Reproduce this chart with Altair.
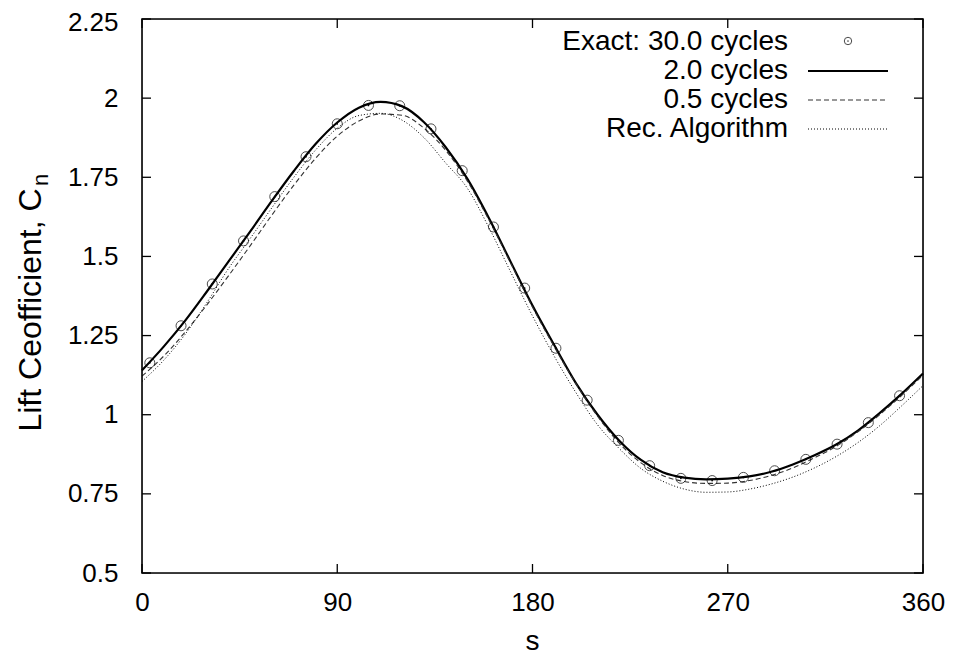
import altair as alt
import pandas as pd

# ---------------- data ----------------
s_grid = [0, 10, 20, 30, 40, 50, 60, 70, 80, 90, 100, 110, 120, 130, 140, 150, 160, 170, 180,
          190, 200, 210, 220, 230, 240, 250, 260, 270, 280, 290, 300, 310, 320, 330, 340, 350, 360]

cn_2cycles = [1.140, 1.215, 1.298, 1.390, 1.485, 1.580, 1.677, 1.770, 1.855, 1.923, 1.970, 1.988,
              1.974, 1.924, 1.845, 1.745, 1.620, 1.482, 1.345, 1.220, 1.100, 1.000, 0.918, 0.857,
              0.818, 0.801, 0.796, 0.798, 0.805, 0.820, 0.843, 0.872, 0.906, 0.950, 1.005, 1.065, 1.130]

cn_05cycles = [1.122, 1.185, 1.262, 1.348, 1.440, 1.535, 1.632, 1.725, 1.810, 1.880, 1.928, 1.950,
               1.946, 1.905, 1.835, 1.738, 1.614, 1.478, 1.340, 1.215, 1.098, 0.995, 0.910, 0.848,
               0.808, 0.789, 0.783, 0.784, 0.792, 0.808, 0.832, 0.864, 0.900, 0.946, 1.000, 1.060, 1.125]

cn_rec = [1.105, 1.172, 1.255, 1.355, 1.463, 1.558, 1.655, 1.750, 1.836, 1.905, 1.945, 1.952,
          1.930, 1.875, 1.795, 1.715, 1.590, 1.450, 1.312, 1.185, 1.070, 0.968, 0.893, 0.830,
          0.790, 0.765, 0.755, 0.756, 0.765, 0.781, 0.803, 0.832, 0.868, 0.912, 0.965, 1.027, 1.092]

s_exact = [3.6, 18.0, 32.4, 46.8, 61.2, 75.6, 90.0, 104.4, 118.8, 133.2, 147.6, 162.0, 176.4,
           190.8, 205.2, 219.6, 234.0, 248.4, 262.8, 277.2, 291.6, 306.0, 320.4, 334.8, 349.2]
cn_exact = [1.164, 1.281, 1.413, 1.549, 1.689, 1.815, 1.919, 1.977, 1.976, 1.903, 1.771, 1.593, 1.400,
            1.210, 1.046, 0.919, 0.839, 0.799, 0.792, 0.802, 0.823, 0.859, 0.907, 0.975, 1.060]

x_ticks = [0, 90, 180, 270, 360]
y_ticks = [0.5, 0.75, 1.0, 1.25, 1.5, 1.75, 2.0, 2.25]

legend_labels = ["Exact: 30.0 cycles", "2.0 cycles", "0.5 cycles", "Rec. Algorithm"]
x_title = "s"
y_title = "Lift Ceofficient, C"
y_title_sub = "n"

# ---------------- styling ----------------
W, H = 781, 554
FONT = "Liberation Sans"
FS_TICK = 26
FS_LEG = 28
FS_TITLE = 32
TICK = 9

lines_df = pd.DataFrame({
    "s": s_grid * 3,
    "cn": cn_2cycles + cn_05cycles + cn_rec,
    "series": ["2.0 cycles"] * len(s_grid) + ["0.5 cycles"] * len(s_grid) + ["Rec. Algorithm"] * len(s_grid),
})
exact_df = pd.DataFrame({"s": s_exact, "cn": cn_exact})
xt_df = pd.DataFrame({"v": x_ticks})
yt_df = pd.DataFrame({"v": y_ticks})

xscale = alt.Scale(domain=[0, 360], nice=False, zero=False)
yscale = alt.Scale(domain=[0.5, 2.25], nice=False, zero=False)

X = alt.X("s:Q", scale=xscale,
          axis=alt.Axis(values=x_ticks, ticks=False, domain=False, grid=False, title=None,
                        labelPadding=16, labelFontSize=FS_TICK, labelFont=FONT, labelColor="black",
                        labelFlush=False, format="d"))
Y = alt.Y("cn:Q", scale=yscale,
          axis=alt.Axis(values=y_ticks, ticks=False, domain=False, grid=False, title=None,
                        labelPadding=24, labelFontSize=FS_TICK, labelFont=FONT, labelColor="black",
                        labelFlush=False, labelExpr="format(datum.value, '.4~f')",
                        labelOffset={"condition": {"test": "datum.value > 2.2", "value": 3}, "value": 0}))

base = alt.Chart(lines_df)

solid = base.transform_filter(alt.datum.series == "2.0 cycles").mark_line(
    color="black", strokeWidth=2.2, interpolate="monotone").encode(x=X, y=Y)
dashed = base.transform_filter(alt.datum.series == "0.5 cycles").mark_line(
    color="#333333", strokeWidth=1.1, strokeDash=[5, 3], interpolate="monotone").encode(
    x=alt.X("s:Q", scale=xscale), y=alt.Y("cn:Q", scale=yscale))
dotted = base.transform_filter(alt.datum.series == "Rec. Algorithm").mark_line(
    color="black", strokeWidth=1.0, strokeDash=[1, 2], interpolate="monotone").encode(
    x=alt.X("s:Q", scale=xscale), y=alt.Y("cn:Q", scale=yscale))

circles = alt.Chart(exact_df).mark_point(
    shape="circle", filled=False, size=100, color="black", strokeWidth=1).encode(
    x=alt.X("s:Q", scale=xscale), y=alt.Y("cn:Q", scale=yscale))
dots = alt.Chart(exact_df).mark_point(
    shape="circle", filled=True, size=3, color="black", opacity=1).encode(
    x=alt.X("s:Q", scale=xscale), y=alt.Y("cn:Q", scale=yscale))

one = pd.DataFrame({"k": [0]})
border = alt.Chart(one).mark_rect(fillOpacity=0, stroke="black", strokeWidth=1.6).encode(
    x=alt.value(0), x2=alt.value(W), y=alt.value(0), y2=alt.value(H))

# inward ticks on all four sides
tick_style = dict(color="black", strokeWidth=1.3)
left_t = alt.Chart(yt_df).mark_rule(**tick_style).encode(
    y=alt.Y("v:Q", scale=yscale), x=alt.value(0), x2=alt.value(TICK))
right_t = alt.Chart(yt_df).mark_rule(**tick_style).encode(
    y=alt.Y("v:Q", scale=yscale), x=alt.value(W - TICK), x2=alt.value(W))
bottom_t = alt.Chart(xt_df).mark_rule(**tick_style).encode(
    x=alt.X("v:Q", scale=xscale), y=alt.value(H), y2=alt.value(H - TICK))
top_t = alt.Chart(xt_df).mark_rule(**tick_style).encode(
    x=alt.X("v:Q", scale=xscale), y=alt.value(0), y2=alt.value(TICK))

# axis titles
xt = alt.Chart(pd.DataFrame({"t": [x_title]})).mark_text(
    font=FONT, fontSize=28, color="black", align="center", baseline="alphabetic").encode(
    text="t:N", x=alt.value(W / 2), y=alt.value(H + 77))
yt = alt.Chart(pd.DataFrame({"t": [y_title]})).mark_text(
    font=FONT, fontSize=FS_TITLE, color="black", align="center", baseline="middle", angle=270).encode(
    text="t:N", x=alt.value(-111), y=alt.value(H / 2 + 14))
ytsub = alt.Chart(pd.DataFrame({"t": [y_title_sub]})).mark_text(
    font=FONT, fontSize=22, color="black", align="left", baseline="middle", angle=270).encode(
    text="t:N", x=alt.value(-101), y=alt.value(H / 2 + 14 - 124))

# manual legend (gnuplot style: right-aligned text, sample on the right)
leg_text_x = 646
leg_s0, leg_s1 = 666, 746
leg_rows = [23, 52, 81, 110]
legend_layers = []
for lab, ry in zip(legend_labels, leg_rows):
    legend_layers.append(
        alt.Chart(pd.DataFrame({"t": [lab]})).mark_text(
            font=FONT, fontSize=FS_LEG, color="black", align="right", baseline="middle").encode(
            text="t:N", x=alt.value(leg_text_x), y=alt.value(ry)))
legend_layers += [
    alt.Chart(one).mark_point(shape="circle", filled=False, size=55, color="black", strokeWidth=1).encode(
        x=alt.value((leg_s0 + leg_s1) / 2), y=alt.value(leg_rows[0] - 1)),
    alt.Chart(one).mark_point(shape="circle", filled=True, size=3, color="black").encode(
        x=alt.value((leg_s0 + leg_s1) / 2), y=alt.value(leg_rows[0] - 1)),
    alt.Chart(one).mark_rule(color="black", strokeWidth=2.2).encode(
        x=alt.value(leg_s0), x2=alt.value(leg_s1), y=alt.value(leg_rows[1])),
    alt.Chart(one).mark_rule(color="#333333", strokeWidth=1.1, strokeDash=[5, 3]).encode(
        x=alt.value(leg_s0), x2=alt.value(leg_s1), y=alt.value(leg_rows[2])),
    alt.Chart(one).mark_rule(color="black", strokeWidth=1.0, strokeDash=[1, 2]).encode(
        x=alt.value(leg_s0), x2=alt.value(leg_s1), y=alt.value(leg_rows[3])),
]

chart = alt.layer(
    solid, dashed, dotted, circles, dots, border,
    left_t, right_t, bottom_t, top_t,
    xt, yt, ytsub, *legend_layers
).properties(
    width=W, height=H,
    autosize=alt.AutoSizeParams(type="none"),
    padding={"left": 134, "top": 11, "right": 24, "bottom": 83},
).configure_view(
    stroke=None
).configure(
    background="white"
)

chart.save("out.html", embed_options={"renderer": "svg", "actions": False})
